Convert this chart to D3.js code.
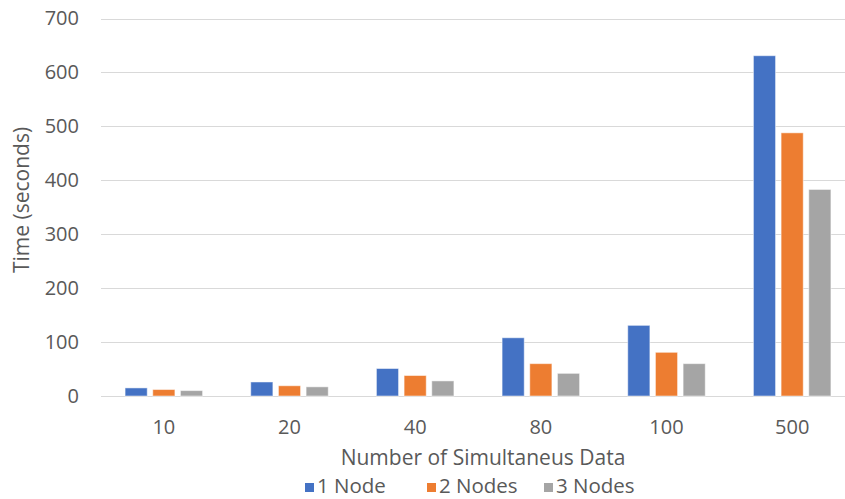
<!DOCTYPE html>
<html><head><meta charset="utf-8">
<script src="https://cdn.jsdelivr.net/npm/d3@7"></script>
<style>
html,body{margin:0;padding:0;background:#fff;overflow:hidden}
text{font-family:"Open Sans",sans-serif;fill:#595959}
</style></head>
<body><svg id="c" width="845" height="499"></svg>
<script>
const categories = ["10","20","40","80","100","500"];
const seriesNames = ["1 Node","2 Nodes","3 Nodes"];
const node1 = [15, 26, 51, 108, 131, 631];
const node2 = [12, 19, 38, 60, 81, 488];
const node3 = [10, 17, 28, 42, 60, 383];
const yTicks = [0,100,200,300,400,500,600,700];
const colors = ["#4472C4","#ED7D31","#A5A5A5"];
const seriesValues = [node1, node2, node3];

(function(){
const svg = d3.select("#c");
const pLeft = 101, pRight = 855, pTop = 18.5, pBottom = 396;
const y = d3.scaleLinear().domain([0,700]).range([pBottom, pTop]);
const x0 = d3.scaleBand().domain(categories).range([pLeft, pRight]);
const bw = x0.bandwidth();
const gw = 77.5;
const x1 = d3.scaleBand().domain(seriesNames).range([(bw-gw)/2, (bw+gw)/2]).paddingInner(0.2);

svg.append("g").selectAll("line").data(yTicks).join("line")
  .attr("x1", pLeft).attr("x2", 845)
  .attr("y1", d => Math.round(y(d))+0.5).attr("y2", d => Math.round(y(d))+0.5)
  .attr("stroke", "#d9d9d9").attr("stroke-width", 1);

const yAxis = d3.axisLeft(y).tickValues(yTicks).tickSize(0).tickPadding(0);
const ya = svg.append("g").attr("transform", `translate(79,0)`).call(yAxis);
ya.select(".domain").remove();
ya.selectAll("text").style("font-size","20px").attr("fill","#595959").style("font-family","'Open Sans',sans-serif");

const groups = svg.append("g").selectAll("g").data(categories).join("g")
  .attr("transform", d => `translate(${x0(d)},0)`);
groups.selectAll("rect").data((d,i) => seriesNames.map((s,j) => ({s, v: seriesValues[j][i], j})))
  .join("rect")
  .attr("x", d => x1(d.s)).attr("width", x1.bandwidth())
  .attr("y", d => y(d.v)).attr("height", d => y(0) - y(d.v))
  .attr("fill", d => colors[d.j])
  .attr("stroke", "#ffffff").attr("stroke-opacity", 0.5).attr("stroke-width", 1);

const xAxis = d3.axisBottom(x0).tickSize(0).tickPadding(0);
const xa = svg.append("g").attr("transform", `translate(0,420)`).call(xAxis);
xa.select(".domain").remove();
xa.selectAll("text").style("font-size","20px").attr("fill","#595959").style("font-family","'Open Sans',sans-serif");

svg.append("text").attr("x", 483).attr("y", 465).attr("text-anchor","middle")
  .style("font-size","21px").text("Number of Simultaneus Data");
svg.append("text").attr("transform","translate(29,200) rotate(-90)").attr("text-anchor","middle")
  .style("font-size","21px").text("Time (seconds)");

const legX = [305, 427, 544];
const leg = svg.append("g").selectAll("g").data(seriesNames).join("g")
  .attr("transform", (d,i) => `translate(${legX[i]},493)`);
leg.append("rect").attr("x",0).attr("y",-10).attr("width",9).attr("height",9).attr("fill",(d,i)=>colors[i]);
leg.append("text").attr("x",12).attr("y",0).style("font-size","20.5px").text(d=>d);
})();
</script></body></html>
